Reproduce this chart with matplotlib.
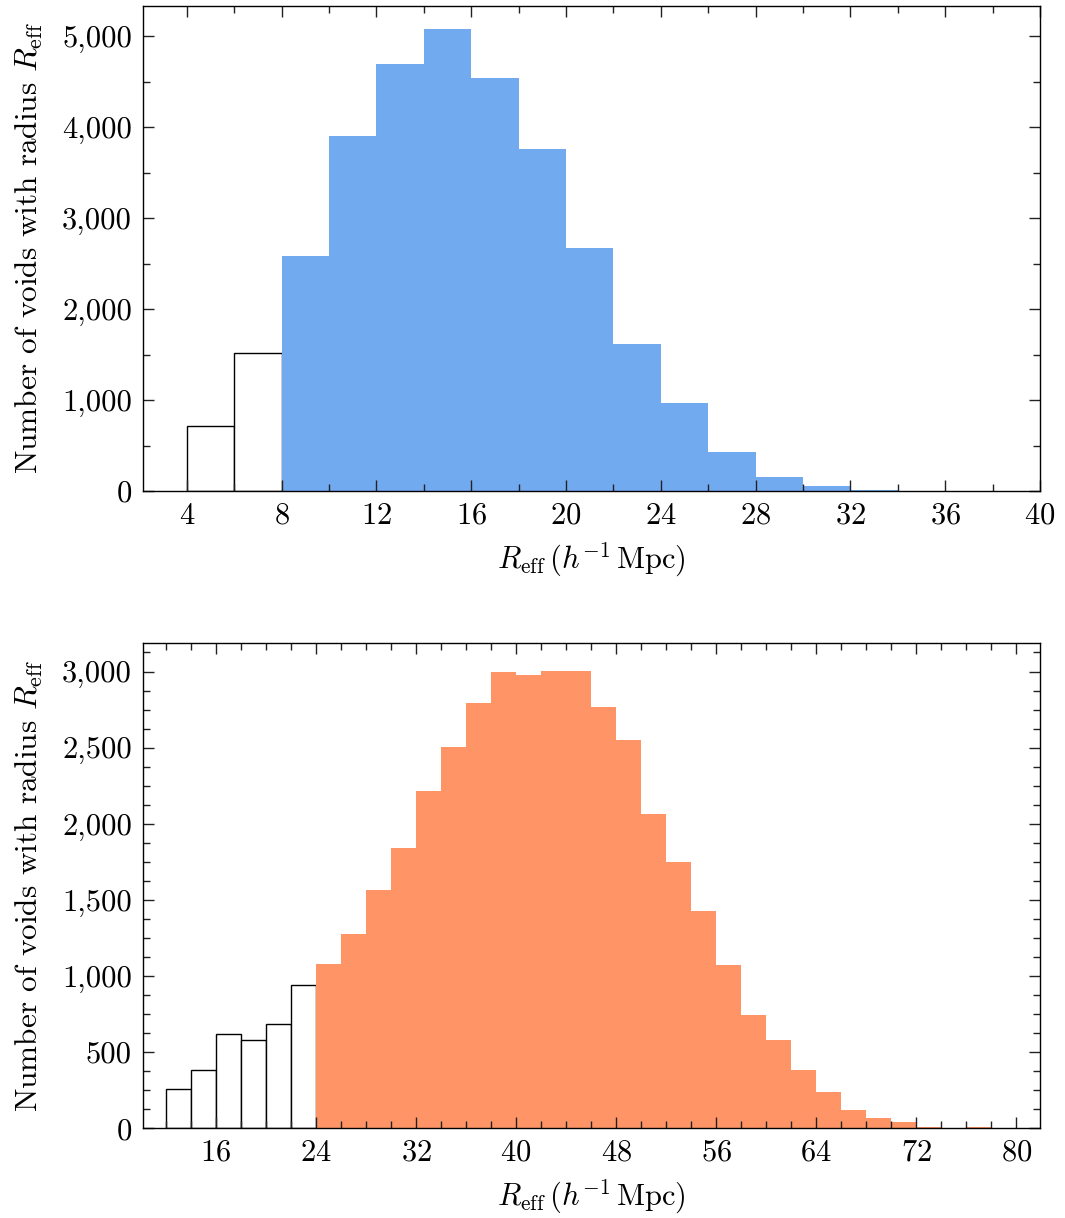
import matplotlib
matplotlib.use("Agg")
import matplotlib.pyplot as plt
from matplotlib.ticker import MultipleLocator, FuncFormatter

plt.rcParams['font.family'] = 'serif'
plt.rcParams['font.serif'] = ['cmr10', 'DejaVu Serif']
plt.rcParams['mathtext.fontset'] = 'cm'
plt.rcParams['axes.unicode_minus'] = False
plt.rcParams['axes.formatter.use_mathtext'] = True

# ---- data: top panel ----
top_edges = [4, 6, 8, 10, 12, 14, 16, 18, 20, 22, 24, 26, 28, 30, 32, 34]
top_counts = [715, 1520, 2585, 3905, 4697, 5082, 4543, 3762, 2673, 1620,
              968, 429, 155, 58, 15]
top_cut = 8   # bins below this radius are drawn as open bars

# ---- data: bottom panel ----
bot_edges = list(range(12, 82, 2))
bot_counts = [256, 383, 621, 578, 683, 943, 1079, 1276, 1567, 1840, 2214,
              2503, 2794, 2996, 2978, 3005, 3005, 2766, 2549, 2063, 1748,
              1427, 1072, 744, 580, 383, 239, 120, 68, 42, 7, 0, 6, 0]
bot_cut = 24

blue = '#72AAF0'
orange = '#FF9566'

fig = plt.figure(figsize=(10.65, 12.18), dpi=100)
ax1 = fig.add_axes([0.1343, 0.5969, 0.8423, 0.3982])
ax2 = fig.add_axes([0.1343, 0.0736, 0.8423, 0.3982])


def draw(ax, edges, counts, cut, color):
    for i, c in enumerate(counts):
        left = edges[i]
        w = edges[i + 1] - edges[i]
        if left < cut:
            ax.bar(left, c, width=w, align='edge', facecolor='white',
                   edgecolor='black', linewidth=1.0, zorder=2)
        else:
            ax.bar(left, c, width=w, align='edge', facecolor=color,
                   edgecolor='none', linewidth=0, zorder=2)


draw(ax1, top_edges, top_counts, top_cut, blue)
draw(ax2, bot_edges, bot_counts, bot_cut, orange)

fmt = FuncFormatter(lambda v, p: f"{int(round(v)):,}")

ax1.set_xlim(2.15, 40)
ax1.set_ylim(0, 5335)
ax1.xaxis.set_major_locator(MultipleLocator(4))
ax1.xaxis.set_minor_locator(MultipleLocator(2))
ax1.yaxis.set_major_locator(MultipleLocator(1000))
ax1.yaxis.set_minor_locator(MultipleLocator(500))

ax2.set_xlim(10.16, 81.9)
ax2.set_ylim(0, 3185)
ax2.xaxis.set_major_locator(MultipleLocator(8))
ax2.xaxis.set_minor_locator(MultipleLocator(2))
ax2.yaxis.set_major_locator(MultipleLocator(500))
ax2.yaxis.set_minor_locator(MultipleLocator(125))

for ax in (ax1, ax2):
    ax.yaxis.set_major_formatter(fmt)
    ax.tick_params(which='both', direction='in', top=True, right=True,
                   labelsize=22, width=1.0, color='#222222')
    ax.tick_params(which='major', length=8, pad=8)
    ax.tick_params(which='minor', length=5)
    for s in ax.spines.values():
        s.set_linewidth(1.0)
        s.set_zorder(5)
    ax.set_axisbelow(False)
    ax.set_ylabel(r"Number of voids with radius $R_{\rm eff}$", fontsize=22.5,
                  labelpad=12)
    ax.set_xlabel(r"$R_{\rm eff}\,(h^{-1}\,{\rm Mpc})$", fontsize=22,
                  labelpad=8)

fig.savefig("out.png", dpi=100)
